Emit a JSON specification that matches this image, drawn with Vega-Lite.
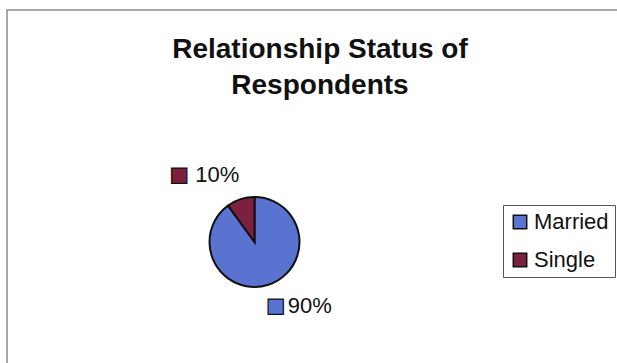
{
  "$schema": "https://vega.github.io/schema/vega-lite/v6.json",
  "width": 630,
  "height": 370,
  "autosize": {"type": "none"},
  "padding": {"left": 7, "top": 10, "right": -20, "bottom": -17},
  "background": "white",
  "view": {"stroke": "#8c8c8c", "strokeWidth": 1.5},
  "config": {"view": {"stroke": "#8c8c8c", "strokeWidth": 1.5}},
  "title": {
    "text": ["Relationship Status of", "Respondents"],
    "font": "Liberation Sans",
    "fontSize": 28,
    "fontWeight": "bold",
    "color": "#111111",
    "lineHeight": 36,
    "offset": -90,
    "dx": -2,
    "anchor": "middle"
  },
  "data": {
    "values": [
      {"status": "Married", "percent": 90, "label": "90%"},
      {"status": "Single", "percent": 10, "label": "10%"}
    ]
  },
  "encoding": {
    "theta": {"field": "percent", "type": "quantitative", "stack": true},
    "order": {"field": "percent", "type": "quantitative", "sort": "descending"},
    "color": {
      "field": "status",
      "type": "nominal",
      "scale": {"domain": ["Married", "Single"], "range": ["#5a73d0", "#7d2040"]},
      "legend": {
        "orient": "none",
        "legendX": 496,
        "legendY": 195,
        "title": null,
        "strokeColor": "#555555",
        "fillColor": "white",
        "padding": 6,
        "symbolType": "square",
        "symbolSize": 180,
        "symbolStrokeColor": "#111111",
        "symbolStrokeWidth": 1.5,
        "symbolOpacity": 1,
        "labelFont": "Liberation Sans",
        "labelFontSize": 22,
        "labelColor": "#111111",
        "labelOffset": 3,
        "rowPadding": 16
      }
    }
  },
  "layer": [
    {
      "mark": {"type": "arc", "radius": 45, "stroke": "#111111", "strokeWidth": 2, "x": 247.5, "y": 232}
    },
    {
      "mark": {
        "type": "text", "radius": 75, "x": 247.5, "y": 232,
        "font": "DejaVu Sans", "fontSize": 20, "stroke": "#111111", "strokeWidth": 1.2,
        "align": "center", "baseline": "middle",
        "dx": {"expr": "datum.status === 'Single' ? -52 : -2"},
        "dy": {"expr": "datum.status === 'Single' ? 4 : -7"}
      },
      "encoding": {"text": {"value": "■"}}
    },
    {
      "mark": {
        "type": "text", "radius": 75, "x": 247.5, "y": 232,
        "font": "Liberation Sans", "fontSize": 22,
        "align": "left", "baseline": "middle",
        "dx": {"expr": "datum.status === 'Single' ? -36 : 10"},
        "dy": {"expr": "datum.status === 'Single' ? 4 : -7"}
      },
      "encoding": {"text": {"field": "label"}, "color": {"value": "#111111"}}
    }
  ]
}
